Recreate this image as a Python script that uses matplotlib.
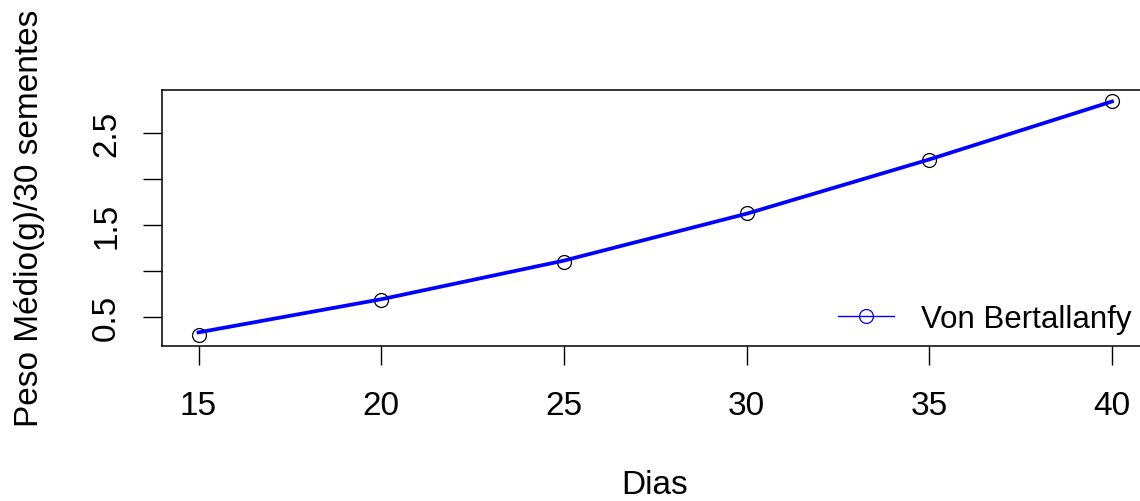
import numpy as np
import matplotlib.pyplot as plt
from matplotlib.lines import Line2D

plt.rcParams['font.family'] = ['Liberation Sans', 'DejaVu Sans']

dias = [15, 20, 25, 30, 35, 40]
peso_obs = [0.30, 0.68, 1.10, 1.63, 2.20, 2.85]
peso_ajust = [0.33, 0.69, 1.11, 1.62, 2.21, 2.84]
yticks = [0.5, 1.0, 1.5, 2.0, 2.5]
ytick_labels = ["0.5", "", "1.5", "", "2.5"]
xticks = [15, 20, 25, 30, 35, 40]

fs = 24

fig = plt.figure(figsize=(11.4, 5.02), dpi=100)
ax = fig.add_axes([162/1140, 1 - 346.7/502, (1148.5-162)/1140, (346.7-91)/502])

ax.plot(dias, peso_obs, 'o', mfc='none', mec='black', ms=10, mew=0.9, zorder=2)
ax.plot(dias, peso_ajust, '-', color='blue', lw=2.7, zorder=3)

ax.set_xlim(14, 41)
ax.set_ylim(0.185, 2.965)
ax.set_xticks(xticks)
ax.set_xticklabels([str(x) for x in xticks])
ax.set_yticks(yticks)
ax.set_yticklabels(ytick_labels, rotation=90, va='center')
ax.tick_params(axis='both', length=13.7, width=1, labelsize=fs)
ax.tick_params(axis='x', pad=18)
ax.tick_params(axis='y', pad=15)

for s in ax.spines.values():
    s.set_linewidth(1.1)

handle = Line2D([], [], color='blue', lw=1, marker='o', mfc='none', mec='blue', ms=10, mew=0.9)
ax.legend([handle], ["Von Bertallanfy"], loc='center left', bbox_to_anchor=(0.685, 0.104),
          frameon=False, fontsize=22.5, borderpad=0, borderaxespad=0,
          handlelength=1.8, handletextpad=0.85)

fig.text(30/1140, 1 - 218/502, "Peso Médio(g)/30 sementes", rotation=90,
         ha='center', va='center', fontsize=fs)
fig.text(655/1140, 1 - 486/502, "Dias", ha='center', va='center', fontsize=fs)

fig.savefig("out.png", dpi=100)
